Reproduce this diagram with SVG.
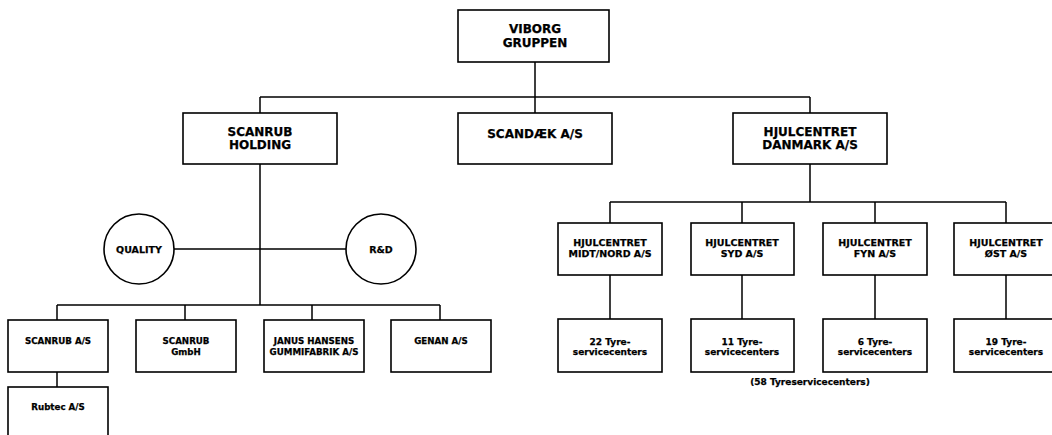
<svg xmlns="http://www.w3.org/2000/svg" width="1052" height="435" viewBox="0 0 1052 435">
<style>
.b{fill:#fff;stroke:#000;stroke-width:1.6}
.c{fill:none;stroke:#000;stroke-width:1.5}
text{font-family:"DejaVu Sans",sans-serif;font-weight:bold;text-anchor:middle;fill:#000;stroke:#000;stroke-width:0.25}
.l{font-size:12px}
.s{font-size:8.7px}
.h{font-size:9.5px}
.t{font-size:9px}
</style>
<rect width="1052" height="435" fill="#fff"/>
<g id="connectors" class="c">
<path d="M535 62V97M260 97H810M260 97V113M535 97V113M810 97V113"/>
<path d="M260 164V305M174 249H346M57 305H440M57 305V320M185 305V320M312 305V320M440 305V320M57 372V387"/>
<path d="M810 164V202M610 202H1006M610 202V223M742 202V223M875 202V223M1006 202V223"/>
<path d="M610 275V319M742 275V319M875 275V319M1006 275V319"/>
</g>
<g id="viborg"><rect class="b" x="458" y="10" width="151" height="52"/><text class="l" x="535" y="33">VIBORG</text><text class="l" x="535" y="47">GRUPPEN</text></g>
<g id="scanrub-holding"><rect class="b" x="183" y="113" width="154" height="51"/><text class="l" x="260" y="136">SCANRUB</text><text class="l" x="260" y="149">HOLDING</text></g>
<g id="scandaek"><rect class="b" x="458" y="113" width="154" height="51"/><text class="l" x="535" y="138">SCANDÆK A/S</text></g>
<g id="hjulcentret-danmark"><rect class="b" x="733" y="113" width="154" height="51"/><text class="l" x="810" y="136">HJULCENTRET</text><text class="l" x="810" y="149">DANMARK A/S</text></g>
<g id="quality"><circle class="b" cx="139" cy="249" r="35"/><text class="h" x="139" y="252.5">QUALITY</text></g>
<g id="rd"><circle class="b" cx="381" cy="249" r="35"/><text class="h" x="381" y="252.5">R&amp;D</text></g>
<g id="scanrub-as"><rect class="b" x="8" y="320" width="100" height="52"/><text class="s" x="58" y="344">SCANRUB A/S</text></g>
<g id="scanrub-gmbh"><rect class="b" x="136" y="320" width="100" height="52"/><text class="s" x="186" y="344">SCANRUB</text><text class="s" x="186" y="355">GmbH</text></g>
<g id="janus"><rect class="b" x="264" y="320" width="100" height="52"/><text class="s" x="314" y="344">JANUS HANSENS</text><text class="s" x="314" y="355">GUMMIFABRIK A/S</text></g>
<g id="genan"><rect class="b" x="391" y="320" width="100" height="52"/><text class="s" x="441" y="344">GENAN A/S</text></g>
<g id="rubtec"><rect class="b" x="8" y="387" width="100" height="60"/><text class="s" x="58" y="410">Rubtec A/S</text></g>
<g id="hc-midtnord"><rect class="b" x="558" y="223" width="104" height="52"/><text class="h" x="610" y="246">HJULCENTRET</text><text class="h" x="610" y="257">MIDT/NORD A/S</text></g>
<g id="hc-syd"><rect class="b" x="691" y="223" width="103" height="52"/><text class="h" x="742" y="246">HJULCENTRET</text><text class="h" x="742" y="257">SYD A/S</text></g>
<g id="hc-fyn"><rect class="b" x="823" y="223" width="104" height="52"/><text class="h" x="875" y="246">HJULCENTRET</text><text class="h" x="875" y="257">FYN A/S</text></g>
<g id="hc-ost"><rect class="b" x="954" y="223" width="110" height="52"/><text class="h" x="1006" y="246">HJULCENTRET</text><text class="h" x="1006" y="257">ØST A/S</text></g>
<g id="tyre-22"><rect class="b" x="558" y="319" width="104" height="53"/><text class="t" x="610" y="345">22 Tyre-</text><text class="t" x="610" y="355">servicecenters</text></g>
<g id="tyre-11"><rect class="b" x="691" y="319" width="103" height="53"/><text class="t" x="742" y="345">11 Tyre-</text><text class="t" x="742" y="355">servicecenters</text></g>
<g id="tyre-6"><rect class="b" x="823" y="319" width="104" height="53"/><text class="t" x="875" y="345">6 Tyre-</text><text class="t" x="875" y="355">servicecenters</text></g>
<g id="tyre-19"><rect class="b" x="954" y="319" width="110" height="53"/><text class="t" x="1006" y="345">19 Tyre-</text><text class="t" x="1006" y="355">servicecenters</text></g>
<g id="total"><text class="t" x="810" y="385">(58 Tyreservicecenters)</text></g>
</svg>
